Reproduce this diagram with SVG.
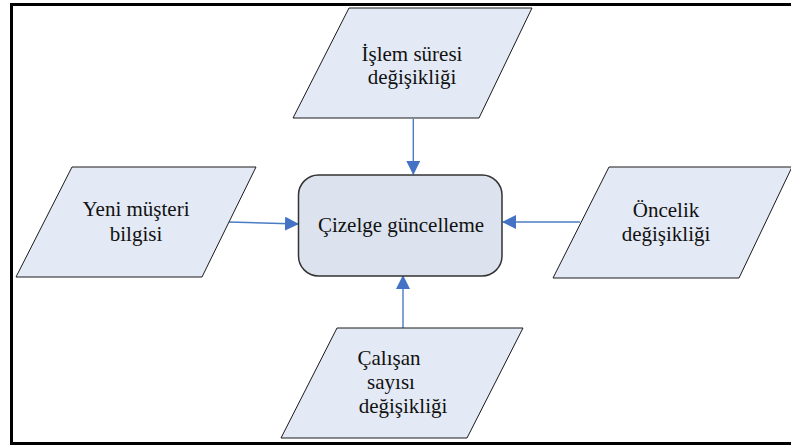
<svg xmlns="http://www.w3.org/2000/svg" width="791" height="445" viewBox="0 0 791 445">
<defs>
<style>
.io{fill:#E4EAF5;stroke:#1a1a1a;stroke-width:1}
.proc{fill:#DCE3EF;stroke:#333;stroke-width:1.5}
.t{font-family:'Liberation Serif','Times New Roman',serif;font-size:21px;fill:#111;text-anchor:middle}
.c{stroke:#4A7CC4;stroke-width:1.4;fill:none}
</style>
<marker id="ah" viewBox="0 0 14 14" refX="13" refY="7" markerWidth="14" markerHeight="14" markerUnits="userSpaceOnUse" orient="auto">
<path d="M0,0 L14,7 L0,14 Z" fill="#4472C4"/>
</marker>
</defs>
<rect width="791" height="445" fill="#fff"/>
<rect x="11.5" y="4.5" width="790" height="439" fill="none" stroke="#000" stroke-width="3"/>
<g id="connectors">
<line class="c" x1="413.3" y1="119" x2="413.3" y2="174" marker-end="url(#ah)"/>
<line class="c" x1="229" y1="222" x2="298" y2="224" marker-end="url(#ah)"/>
<line class="c" x1="580" y1="222" x2="503" y2="222" marker-end="url(#ah)"/>
<line class="c" x1="403" y1="328" x2="403" y2="276" marker-end="url(#ah)"/>
</g>
<g id="islem">
<polygon class="io" points="349,8 532,8 479,118 293,118"/>
<text class="t" x="412" y="61">İşlem süresi</text>
<text class="t" x="412" y="84">değişikliği</text>
</g>
<g id="yeni">
<polygon class="io" points="72,167 256,167 202,277 16,277"/>
<text class="t" x="136" y="216">Yeni müşteri</text>
<text class="t" x="136" y="241">bilgisi</text>
</g>
<g id="cizelge">
<rect class="proc" x="298.5" y="175" width="203.5" height="101" rx="20" ry="20"/>
<text class="t" x="401" y="232">Çizelge güncelleme</text>
</g>
<g id="oncelik">
<polygon class="io" points="609,167 792,167 739,278 553,278"/>
<text class="t" x="666" y="217">Öncelik</text>
<text class="t" x="666" y="241">değişikliği</text>
</g>
<g id="calisan">
<polygon class="io" points="337,328 523,328 467,438 281,438"/>
<text class="t" x="389" y="365">Çalışan</text>
<text class="t" x="391" y="389">sayısı</text>
<text class="t" x="403" y="413">değişikliği</text>
</g>
</svg>
